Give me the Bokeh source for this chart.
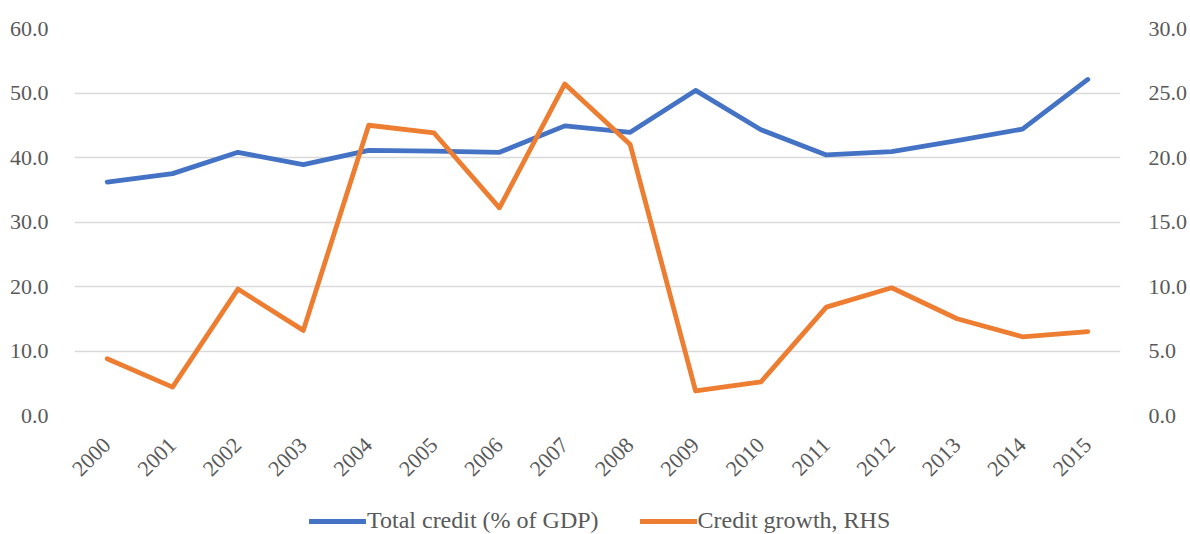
import math
from bokeh.plotting import figure
from bokeh.layouts import column
from bokeh.models import (Range1d, LinearAxis, FixedTicker, PrintfTickFormatter,
                          Legend, LegendItem, ColumnDataSource)
from bokeh.embed import file_html
from bokeh.resources import INLINE

years = [str(y) for y in range(2000, 2016)]
total_credit = [36.2, 37.5, 40.8, 38.9, 41.1, 41.0, 40.8, 44.9, 43.9, 50.4,
                44.3, 40.4, 40.9, 42.6, 44.4, 52.1]
credit_growth = [4.4, 2.2, 9.8, 6.6, 22.5, 21.9, 16.1, 25.7, 21.0, 1.9,
                 2.6, 8.4, 9.9, 7.5, 6.1, 6.5]
left_ticks = [0, 10, 20, 30, 40, 50, 60]
right_ticks = [0, 5, 10, 15, 20, 25, 30]
series_names = ["Total credit (% of GDP)", "Credit growth, RHS"]
series_colors = ["#4472C4", "#ED7D31"]

FONT = "Liberation Serif"
GREY = "#595959"

src = ColumnDataSource(dict(year=years, tc=total_credit, cg=credit_growth))

p = figure(x_range=years, y_range=Range1d(0, 60), width=1190, height=486,
           output_backend="svg", toolbar_location=None,
           min_border_left=74, min_border_right=67, min_border_top=28,
           min_border_bottom=71)
p.extra_y_ranges = {"right": Range1d(0, 30)}
p.outline_line_color = None

r1 = p.line("year", "tc", source=src, line_color=series_colors[0], line_width=4.8,
            line_join="round", line_cap="round")
r2 = p.line("year", "cg", source=src, y_range_name="right", line_color=series_colors[1],
            line_width=4.8, line_join="round", line_cap="round")

ya = p.yaxis[0]
ya.ticker = FixedTicker(ticks=left_ticks)
ya.formatter = PrintfTickFormatter(format="%.1f")

ra = LinearAxis(y_range_name="right", ticker=FixedTicker(ticks=right_ticks),
                formatter=PrintfTickFormatter(format="%.1f"))
p.add_layout(ra, "right")

for ax in [ya, ra, p.xaxis[0]]:
    ax.axis_line_color = None
    ax.major_tick_line_color = None
    ax.minor_tick_line_color = None
    ax.major_label_text_font = FONT
    ax.major_label_text_font_size = "22px"
    ax.major_label_text_color = GREY
ya.major_label_standoff = 20
ra.major_label_standoff = 22
p.xaxis[0].major_label_orientation = math.pi / 4
p.xaxis[0].major_label_standoff = 20

p.xgrid.grid_line_color = None
p.ygrid.grid_line_color = "#d9d9d9"
p.ygrid.grid_line_width = 1.5
p.ygrid.ticker = FixedTicker(ticks=left_ticks)

# legend strip below the chart (sample lines sit outside the visible range)
lg = figure(width=1190, height=48, output_backend="svg", toolbar_location=None,
            x_range=Range1d(0, 1), y_range=Range1d(0, 1),
            x_axis_location=None, y_axis_location=None,
            min_border=0, min_border_left=0, min_border_right=0,
            min_border_top=0, min_border_bottom=0)
lg.outline_line_color = None
lg.grid.visible = False
d1 = lg.line(x=[5, 6], y=[5, 6], line_color=series_colors[0], line_width=4.8, line_cap="round")
d2 = lg.line(x=[5, 6], y=[5, 6], line_color=series_colors[1], line_width=4.8, line_cap="round")
legend = Legend(items=[LegendItem(label=series_names[0], renderers=[d1]),
                       LegendItem(label=series_names[1], renderers=[d2])],
                orientation="horizontal", location=(235, 0),
                label_text_font=FONT, label_text_font_size="24px",
                label_text_color=GREY, glyph_width=57, label_standoff=1,
                spacing=41, border_line_color=None, background_fill_alpha=0,
                padding=1, margin=0)
lg.add_layout(legend, "center")

layout = column(p, lg, spacing=0)
open("out.html", "w").write(file_html(layout, INLINE))
